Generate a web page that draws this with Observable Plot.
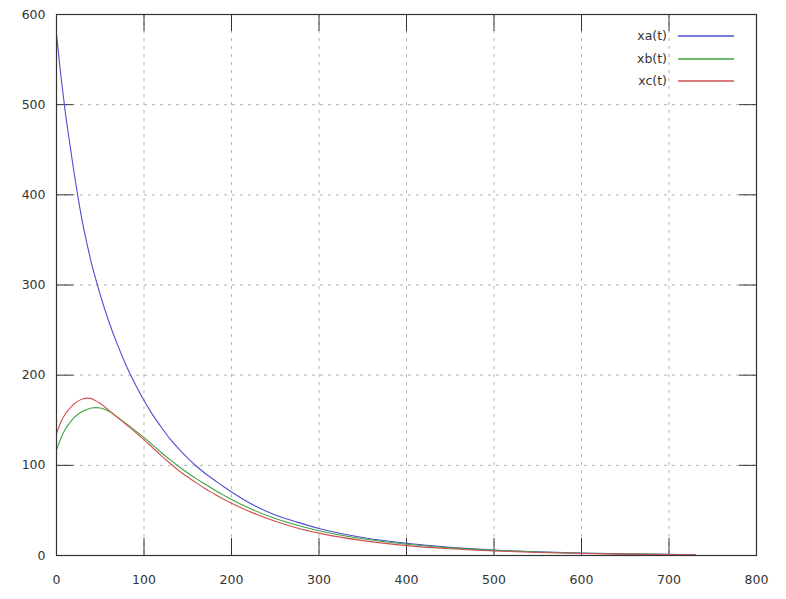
<!DOCTYPE html>
<html>
<head>
<meta charset="utf-8">
<script src="https://cdn.jsdelivr.net/npm/d3@7"></script>
<script src="https://cdn.jsdelivr.net/npm/@observablehq/plot@0.6"></script>
<style>
  html, body { margin: 0; padding: 0; background: #fff; }
  #wrap { position: relative; width: 786px; height: 599px; font-family: "DejaVu Sans", sans-serif; }
  #legend { position: absolute; left: 0; top: 0; pointer-events: none; }
</style>
</head>
<body>
<div id="wrap"></div>
<script>
// ---- data ----
const t  = [0, 5, 10, 15, 20, 25, 30, 35, 40, 45, 50, 60, 70, 80, 90, 100, 110, 120, 130, 140, 150, 160, 170, 180, 190, 200, 225, 250, 275, 300, 350, 400, 450, 500, 550, 600, 650, 700, 730];
const xa = [578, 532, 492, 458, 425, 395, 368, 345, 324, 306, 289, 259, 233, 210, 190, 172, 156, 142, 129, 118, 108, 99, 91, 84, 77, 70.5, 56, 45, 37, 30, 20, 13.5, 9, 6, 4, 2.7, 1.8, 1.2, 0.9];
const xb = [117, 130, 140, 147, 153, 157, 160, 162, 163.5, 164, 163.5, 160, 153, 146, 138.5, 131, 122.5, 114, 106, 98.5, 91.5, 85, 79, 73, 67.5, 62, 50.5, 41, 33.5, 27.5, 18.5, 12.5, 8.5, 5.7, 3.8, 2.5, 1.7, 1.1, 0.9];
const xc = [135, 148, 157, 163, 168, 171.5, 173.5, 174.5, 174, 171.5, 168.5, 161, 153, 145, 137, 128.5, 119.5, 110.5, 102, 94, 87, 80.5, 74, 68.5, 63, 58, 47, 38, 30.5, 24.8, 16.5, 11, 7.5, 5, 3.3, 2.2, 1.5, 1, 0.8];
const seriesNames = ["xa(t)", "xb(t)", "xc(t)"];
const seriesColors = ["#4f4fcf", "#3ba542", "#cf5252"];
const xTicks = [0, 100, 200, 300, 400, 500, 600, 700, 800];
const yTicks = [0, 100, 200, 300, 400, 500, 600];

const seriesValues = [xa, xb, xc];
const rows = seriesNames.flatMap((name, i) => t.map((tt, j) => ({t: tt, v: seriesValues[i][j], series: name})));

const W = 786, H = 599;
const mL = 56, mR = 30, mT = 14, mB = 44;
const pw = W - mL - mR, ph = H - mT - mB;
const tickLen = 17;
const innerX = xTicks.slice(1, -1);
const innerY = yTicks.slice(1, -1);

const chart = Plot.plot({
  width: W, height: H,
  marginLeft: mL, marginRight: mR, marginTop: mT, marginBottom: mB,
  style: {fontFamily: "DejaVu Sans, sans-serif", fontSize: "12.5px", color: "#333", background: "#fff"},
  x: {domain: [0, 800], ticks: xTicks},
  y: {domain: [0, 600], ticks: yTicks},
  color: {domain: seriesNames, range: seriesColors},
  marks: [
    Plot.ruleX(innerX, {x: d => d, stroke: "#b4b4b4", strokeDasharray: "3,5", strokeWidth: 1}),
    Plot.ruleY(innerY, {y: d => d, stroke: "#b4b4b4", strokeDasharray: "3,5", strokeWidth: 1}),
    Plot.tickX(innerX, {x: d => d, insetTop: ph - tickLen, stroke: "#333"}),
    Plot.tickX(innerX, {x: d => d, insetBottom: ph - tickLen, stroke: "#333"}),
    Plot.tickY(innerY, {y: d => d, insetRight: pw - tickLen, stroke: "#333"}),
    Plot.tickY(innerY, {y: d => d, insetLeft: pw - tickLen, stroke: "#333"}),
    Plot.line(rows, {x: "t", y: "v", z: "series", stroke: "series", strokeWidth: 1.1, curve: "monotone-x"}),
    Plot.frame({stroke: "#333", strokeWidth: 1.2}),
    Plot.axisX({ticks: xTicks, tickSize: 0, tickPadding: 20, label: null, tickFormat: d => String(d)}),
    Plot.axisY({ticks: yTicks, tickSize: 0, tickPadding: 11, label: null, tickFormat: d => String(d)})
  ]
});

const wrap = document.getElementById("wrap");
wrap.appendChild(chart);

// legend (inside the plot, top right) as an SVG overlay
const legendRowsY = [36, 58.5, 81];
const ns = "http://www.w3.org/2000/svg";
const lg = document.createElementNS(ns, "svg");
lg.setAttribute("id", "legend");
lg.setAttribute("width", W);
lg.setAttribute("height", H);
seriesNames.forEach((name, i) => {
  const tx = document.createElementNS(ns, "text");
  tx.setAttribute("x", 667);
  tx.setAttribute("y", legendRowsY[i]);
  tx.setAttribute("dy", "0.35em");
  tx.setAttribute("text-anchor", "end");
  tx.setAttribute("font-family", "DejaVu Sans, sans-serif");
  tx.setAttribute("font-size", "12.5");
  tx.setAttribute("fill", "#333");
  tx.textContent = name;
  lg.appendChild(tx);
  const ln = document.createElementNS(ns, "line");
  ln.setAttribute("x1", 678);
  ln.setAttribute("x2", 734);
  ln.setAttribute("y1", Math.round(legendRowsY[i]));
  ln.setAttribute("y2", Math.round(legendRowsY[i]));
  ln.setAttribute("stroke", seriesColors[i]);
  ln.setAttribute("stroke-width", 1.3);
  lg.appendChild(ln);
});
wrap.appendChild(lg);
</script>
</body>
</html>
